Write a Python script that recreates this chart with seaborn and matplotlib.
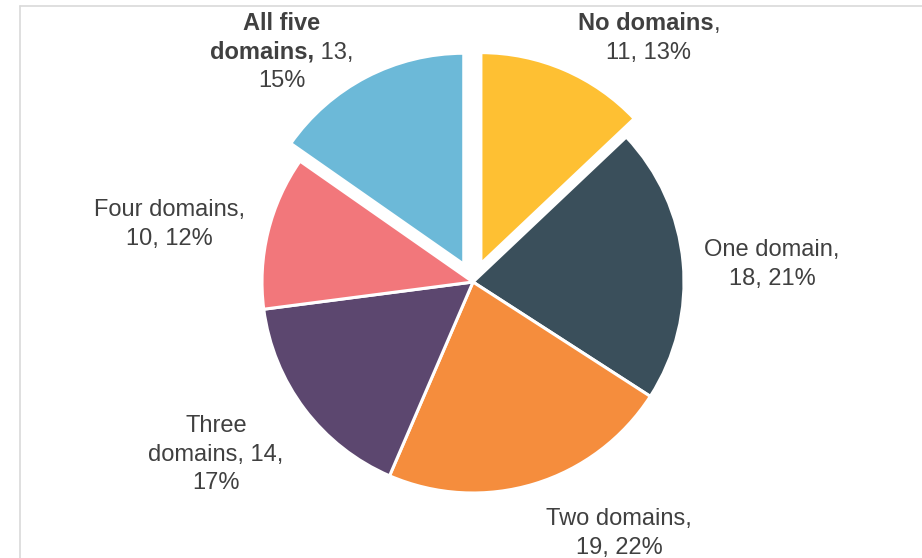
import numpy as np
import matplotlib
matplotlib.use('Agg')
import matplotlib.pyplot as plt
from matplotlib.lines import Line2D
import seaborn as sns

# Data
categories = ['No domains', 'One domain', 'Two domains', 'Three domains',
              'Four domains', 'All five domains']
counts = [11, 18, 19, 14, 10, 13]
percents = [13, 21, 22, 17, 12, 15]
colours = ['#FEC033', '#3A4F5B', '#F58D3D', '#5C476F', '#F2777B', '#6CB9D8']
pulled_out = [True, False, False, False, False, True]

# label lines: each line is a list of (text, bold) pieces
label_lines = [
    [[('No domains', True), (',', False)], [('11, 13%', False)]],
    [[('One domain,', False)], [('18, 21%', False)]],
    [[('Two domains,', False)], [('19, 22%', False)]],
    [[('Three', False)], [('domains, 14,', False)], [('17%', False)]],
    [[('Four domains,', False)], [('10, 12%', False)]],
    [[('All five', True)], [('domains,', True), (' 13,', False)], [('15%', False)]],
]
# label centres in pixels (from top left)
label_pos = [(649, 36), (772, 262), (619, 531), (216, 452), (169, 222), (282, 50)]

sns.set_theme(style='white')
plt.rcParams['font.family'] = ['Liberation Sans', 'DejaVu Sans']

W, H = 922, 558
fig = plt.figure(figsize=(W / 100, H / 100), dpi=100)
ax = fig.add_axes([0, 0, 1, 1])

r = 211
explode = [20 if p else 0 for p in pulled_out]
ax.pie(counts, colors=colours, startangle=90, counterclock=False,
       explode=explode, radius=r, center=(473, H - 282),
       wedgeprops=dict(edgecolor='white', linewidth=2.2), frame=True)

ax.set_xlim(0, W)
ax.set_ylim(0, H)
ax.set_aspect('equal')
ax.axis('off')

renderer = fig.canvas.get_renderer()
fs = 17
gap = 28.5
for lines, (cx, cy) in zip(label_lines, label_pos):
    n = len(lines)
    for i, pieces in enumerate(lines):
        yc = cy + (i - (n - 1) / 2) * gap
        texts = [ax.text(0, 0, s, fontsize=fs, color='#404040',
                         fontweight='bold' if b else 'normal',
                         ha='left', va='baseline')
                 for s, b in pieces]
        widths = [t.get_window_extent(renderer).width for t in texts]
        x = cx - sum(widths) / 2
        for t, w in zip(texts, widths):
            t.set_position((x, H - (yc + 8.5)))
            x += w

# light frame around the chart area
fig.add_artist(Line2D([20 / W, 1], [1 - 5.5 / H, 1 - 5.5 / H],
                      color='#D9D9D9', lw=1.2, transform=fig.transFigure))
fig.add_artist(Line2D([20 / W, 20 / W], [0, 1 - 5.5 / H],
                      color='#D9D9D9', lw=1.2, transform=fig.transFigure))

fig.savefig('out.png', dpi=100, facecolor='white')
